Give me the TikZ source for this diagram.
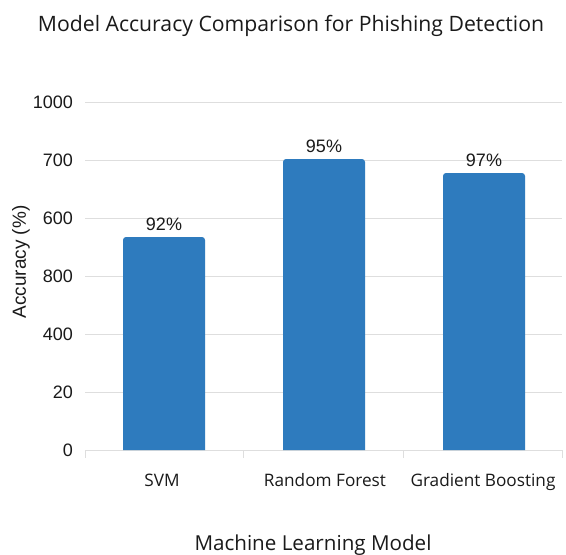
\documentclass[tikz,border=0pt]{standalone}
\usepackage{fontspec}
\setmainfont{Open Sans}
\newfontfamily\arialf{Liberation Sans}
\definecolor{barblue}{HTML}{2E7BBE}
\definecolor{gridgray}{HTML}{DEDEDE}
\definecolor{txt}{HTML}{1A1A1A}
\begin{document}
\begin{tikzpicture}[x=1pt,y=-1pt,
  gridline/.style={draw=gridgray, line width=1pt},
  bar/.style={fill=barblue},
  ticklab/.style={font=\arialf\fontsize{18}{20}\selectfont, text=txt, anchor=east, inner sep=0pt},
  vallab/.style={font=\arialf\fontsize{18}{20}\selectfont, text=txt, anchor=base, inner sep=0pt},
  catlab/.style={font=\fontsize{17.2}{20}\selectfont, text=txt, anchor=base, inner sep=0pt},
  titlelab/.style={font=\fontsize{21.2}{24}\selectfont, text=txt, anchor=base, inner sep=0pt}]
\useasboundingbox[fill=white] (0,0) rectangle (566,555);
% title
\node[titlelab] (title) at (291,31) {Model Accuracy Comparison for Phishing Detection};
% grid
\foreach \yy/\lab [count=\i] in {102/1000,160/700,218/600,276/800,334/400,392/20} {
  \coordinate (gl\i) at (85,\yy);
  \coordinate (gr\i) at (562,\yy);
  \draw[gridline] (gl\i) -- (gr\i);
  \node[ticklab] (tl\i) at (73,\yy) {\lab};
}
\coordinate (axl) at (85,450);
\coordinate (axr) at (562,450);
\draw[gridline] (axl) -- (axr);
\node[ticklab] (tl0) at (73,450) {0};
\foreach \xx [count=\j] in {85,243,403,562} {
  \coordinate (tka\j) at (\xx,450);
  \coordinate (tkb\j) at (\xx,458);
  \draw[gridline] (tka\j) -- (tkb\j);
}
% bars
\fill[bar] (123,450) [rounded corners=3pt] -- (123,237) -- (205,237) [sharp corners] -- (205,450) -- cycle;
\fill[bar] (283,450) [rounded corners=3pt] -- (283,159) -- (365,159) [sharp corners] -- (365,450) -- cycle;
\fill[bar] (443,450) [rounded corners=3pt] -- (443,173) -- (525,173) [sharp corners] -- (525,450) -- cycle;
% value labels
\node[vallab] (v1) at (164,230) {92\%};
\node[vallab] (v2) at (324,152) {95\%};
\node[vallab] (v3) at (484,166) {97\%};
% category labels
\node[catlab] (c1) at (162,486) {SVM};
\node[catlab] (c2) at (325,486) {Random Forest};
\node[catlab] (c3) at (483,486) {Gradient Boosting};
% axis titles
\node[catlab, font=\fontsize{20.6}{24}\selectfont] (xt) at (313,550) {Machine Learning Model};
\node[font=\arialf\fontsize{19}{22}\selectfont, text=txt, rotate=90, inner sep=0pt] (yt) at (21,262) {Accuracy (\%)};
\end{tikzpicture}
\end{document}
